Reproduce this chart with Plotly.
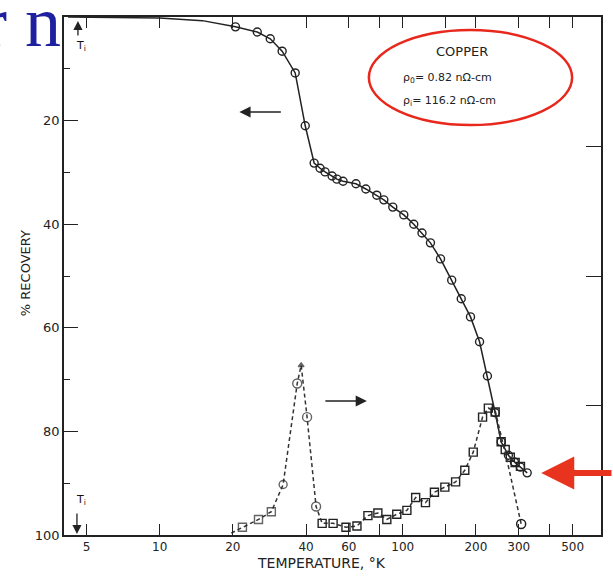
import math
import plotly.graph_objects as go

# ---- Resistivity recovery of copper (left axis, % recovery, reversed) ----
rec_lead_T = [4.2, 10.0, 15.0]
rec_lead_pct = [0.0, 0.2, 0.7]
rec_T = [20.5, 25.2, 28.5, 31.9, 36.1, 39.7, 43.2, 45.7, 47.9, 51.2, 53.6,
         56.8, 64.2, 70.5, 78.2, 83.6, 91.0, 101, 111, 120, 130, 143, 159,
         174, 190, 207, 223, 240, 254, 272, 288, 305, 325]
rec_pct = [1.9, 2.9, 4.2, 6.6, 10.8, 21.0, 28.2, 29.2, 29.9, 30.7, 31.3,
           31.7, 32.2, 33.2, 34.4, 35.3, 36.7, 38.2, 40.0, 41.7, 43.6, 46.7,
           50.8, 54.4, 57.9, 62.7, 69.3, 76.4, 82.0, 84.6, 85.9, 86.9, 88.0]

# ---- Recovery rate (right axis, arbitrary units) ----
# stage I peak
stage1_T = [19.7, 21.9, 25.5, 28.8, 32.2, 36.8, 38.2, 40.4, 44.0]
stage1_v = [0.015, 0.06, 0.12, 0.18, 0.39, 1.17, 1.31, 0.91, 0.22]
stage1_sym = ["circle-open", "square-open", "square-open", "square-open",
              "circle-open", "circle-open", "triangle-up", "circle-open",
              "circle-open"]
stage1_size = [0, 8, 8, 8, 8, 9, 5, 9, 9]
# stage III peak
stage3_T = [46.6, 51.7, 58.4, 64.8, 71.9, 79.0, 86.0, 94.5, 104, 113, 124,
            135, 149, 165, 180, 195, 213, 225, 240, 254, 264, 277, 290, 305]
stage3_v = [0.09, 0.09, 0.06, 0.07, 0.15, 0.17, 0.12, 0.16, 0.19, 0.29,
            0.25, 0.33, 0.37, 0.41, 0.50, 0.64, 0.91, 0.98, 0.95, 0.72,
            0.66, 0.60, 0.56, 0.53]
# steep fall-off branch ending at room temperature
tail_T = [240, 272, 307]
tail_v = [0.96, 0.53, 0.085]

x_ticks = [5, 10, 20, 40, 60, 80, 100, 150, 200, 300, 400, 500]
x_labels = ["5", "10", "20", "40", "60", "", "100", "", "200", "300", "", "500"]
y_ticks = [20, 40, 60, 80, 100]

INK = "#222222"
DASH = "4px,3px"
SANS = "DejaVu Sans, Liberation Sans, sans-serif"

fig = go.Figure()

fig.add_trace(go.Scatter(x=rec_lead_T + rec_T, y=rec_lead_pct + rec_pct,
                         mode="lines", line=dict(color=INK, width=1.5),
                         hoverinfo="skip"))
fig.add_trace(go.Scatter(x=rec_T, y=rec_pct, mode="markers",
                         marker=dict(symbol="circle-open", size=8,
                                     color=INK, line=dict(width=1.4))))

fig.add_trace(go.Scatter(x=stage1_T + stage3_T, y=stage1_v + stage3_v,
                         yaxis="y2", mode="lines",
                         line=dict(color="#333333", width=1.5, dash=DASH)))
fig.add_trace(go.Scatter(x=stage1_T, y=stage1_v, yaxis="y2", mode="markers",
                         marker=dict(symbol=stage1_sym, size=stage1_size,
                                     color=INK, line=dict(width=1.4, color=INK))))
fig.add_trace(go.Scatter(x=stage3_T, y=stage3_v, yaxis="y2", mode="markers",
                         marker=dict(symbol="square-open", size=8,
                                     color=INK, line=dict(width=1.4))))
fig.add_trace(go.Scatter(x=tail_T, y=tail_v, yaxis="y2", mode="lines",
                         line=dict(color="#333333", width=1.5, dash=DASH)))
fig.add_trace(go.Scatter(x=tail_T[-1:], y=tail_v[-1:], yaxis="y2",
                         mode="markers",
                         marker=dict(symbol="circle-open", size=9,
                                     color=INK, line=dict(width=1.5))))

# plot box: x 64..603 px, y 17..535 px
L, R, T, B = 64, 603, 17, 535


def px(x):
    return (x - L) / (R - L)


def py(y):
    return (B - y) / (B - T)


fig.update_layout(
    width=613, height=576,
    margin=dict(l=L, r=613 - R, t=T, b=576 - B),
    paper_bgcolor="white", plot_bgcolor="white",
    showlegend=False,
    xaxis=dict(type="log", range=[math.log10(4.04), math.log10(654)],
               tickvals=x_ticks, ticktext=x_labels, ticks="inside",
               ticklen=11, tickwidth=1.4, tickcolor=INK,
               showline=True, linewidth=1.7, linecolor=INK, mirror="ticks",
               showgrid=False, zeroline=False,
               tickfont=dict(family=SANS, size=12, color=INK)),
    yaxis=dict(range=[100, 0], tickvals=y_ticks, ticks="inside",
               ticklen=14, tickwidth=1.4, tickcolor=INK,
               minor=dict(dtick=10, ticks="inside", ticklen=6,
                          tickwidth=1.2, tickcolor=INK),
               showline=True, linewidth=1.7, linecolor=INK, mirror=True,
               showgrid=False, zeroline=False,
               tickfont=dict(family=SANS, size=13, color=INK)),
    yaxis2=dict(overlaying="y", side="right", range=[0, 4],
                tickvals=[1, 2, 3], showticklabels=False, ticks="inside",
                ticklen=15, tickwidth=1.4, tickcolor=INK,
                showline=False, showgrid=False, zeroline=False),
)

ann = [
    dict(text="% RECOVERY", x=px(25), y=py(273), textangle=-90,
         font=dict(family=SANS, size=13, color=INK)),
    dict(text="TEMPERATURE, °K", x=px(322), y=py(563),
         font=dict(family=SANS, size=14, color=INK)),
    dict(text="COPPER", x=px(463), y=py(52),
         font=dict(family=SANS, size=13, color=INK)),
    dict(text="ρ<sub>0</sub>= 0.82 nΩ-cm", x=px(402), y=py(78), xanchor="left",
         font=dict(family=SANS, size=11, color=INK)),
    dict(text="ρ<sub>i</sub>= 116.2 nΩ-cm", x=px(402), y=py(101), xanchor="left",
         font=dict(family=SANS, size=11, color=INK)),
    dict(text="T<sub>i</sub>", x=px(81), y=py(46),
         font=dict(family=SANS, size=11, color="#111111")),
    dict(text="T<sub>i</sub>", x=px(81), y=py(500),
         font=dict(family=SANS, size=11, color="#111111")),
    dict(text="r n", x=px(63), y=py(22), xanchor="right",
         font=dict(family="Liberation Serif, Times New Roman, serif", size=72,
                   color="#1f20a0")),
]
for a in ann:
    a.setdefault("xanchor", "center")
    a.update(xref="paper", yref="paper", showarrow=False, yanchor="middle")

arrows = [
    # which axis each curve belongs to
    dict(x=px(240), y=py(112), ax=43, ay=0, arrowwidth=1.4, arrowsize=1.6, arrowcolor=INK),
    dict(x=px(368), y=py(401), ax=-43, ay=0, arrowwidth=1.4, arrowsize=1.6, arrowcolor=INK),
    # initial temperature markers
    dict(x=px(78), y=py(21), ax=0, ay=16, arrowwidth=1.3, arrowsize=1.4, arrowcolor=INK),
    dict(x=px(77), y=py(534), ax=0, ay=-22, arrowwidth=1.3, arrowsize=1.4, arrowcolor=INK),
    # highlight of the final recovery level
    dict(x=px(543), y=py(473), ax=80, ay=0, arrowwidth=6, arrowsize=1.1,
         arrowcolor="#e8341f"),
]
for a in arrows:
    a.update(xref="paper", yref="paper", text="", showarrow=True, arrowhead=2,
             standoff=0)

fig.update_layout(annotations=ann + arrows)

fig.add_shape(type="circle", xref="paper", yref="paper",
              x0=px(370), x1=px(574), y0=py(125), y1=py(30),
              line=dict(color="#e8281c", width=2.5), layer="above")

fig.write_html("out.html")
